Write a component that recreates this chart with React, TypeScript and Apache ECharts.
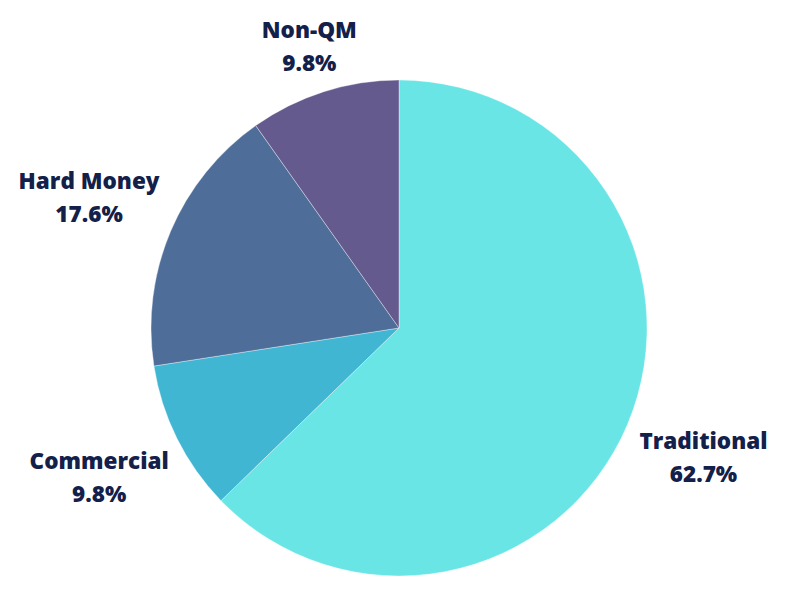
import React, { useEffect, useRef } from "react";
import * as echarts from "echarts";

const categories = ["Traditional", "Commercial", "Hard Money", "Non-QM"];
const values = [32, 5, 9, 5];
const percentLabels = ["62.7%", "9.8%", "17.6%", "9.8%"];
const colors = ["#69E5E6", "#41B6D3", "#4E6D98", "#645A8E"];

const CX = 399;
const CY = 328;
const R = 248;
const GAP = 17;

export default function App() {
  const ref = useRef<HTMLDivElement>(null);
  useEffect(() => {
    if (!ref.current) return;
    const chart = echarts.init(ref.current, null, { renderer: "svg" });
    const total = values.reduce((a, b) => a + b, 0);
    const cum: number[] = [];
    let acc = 0;
    values.forEach((v) => {
      cum.push(acc);
      acc += v;
    });
    chart.setOption({
      animation: false,
      backgroundColor: "#ffffff",
      series: [
        {
          type: "pie",
          center: [CX, CY],
          radius: [0, R],
          startAngle: 90,
          clockwise: true,
          avoidLabelOverlap: false,
          data: categories.map((c, i) => ({
            name: c,
            value: values[i],
            itemStyle: { color: colors[i] },
          })),
          itemStyle: { borderColor: "rgba(255,255,255,0.45)", borderWidth: 0.8 },
          label: {
            show: true,
            position: "outside",
            formatter: (p: any) => `${p.name}\n${percentLabels[p.dataIndex]}`,
            color: "#13204A",
            fontFamily: "Open Sans",
            fontWeight: 800,
            fontSize: 22.5,
            lineHeight: 33,
            align: "center",
            overflow: "none",
          },
          labelLine: { show: false },
          emphasis: { disabled: true },
          labelLayout: (params: any) => {
            const i = params.dataIndex;
            const a = ((cum[i] + values[i] / 2) / total) * Math.PI * 2;
            const dx = Math.sin(a);
            const dy = -Math.cos(a);
            const w = params.labelRect.width;
            const h = params.labelRect.height;
            const half = Math.abs(dx) * (w / 2) + Math.abs(dy) * (h * 0.26);
            const d = R + GAP + half;
            return {
              x: CX + dx * d,
              y: CY + dy * d,
              align: "center",
              verticalAlign: "middle",
            };
          },
        },
      ],
    });
    return () => chart.dispose();
  }, []);
  return (
    <div
      ref={ref}
      style={{ position: "fixed", left: 0, top: 0, width: 787, height: 597 }}
    />
  );
}
